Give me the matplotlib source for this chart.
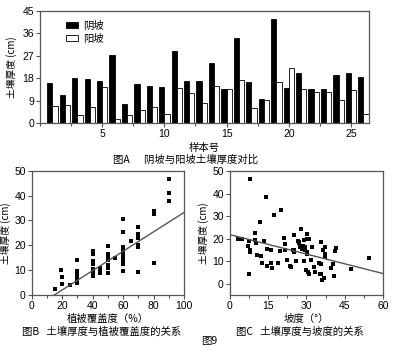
import numpy as np
import matplotlib
matplotlib.use("Agg")
import matplotlib.pyplot as plt
from matplotlib.ticker import MultipleLocator

plt.rcParams['font.family'] = ['Noto Sans CJK SC', 'DejaVu Sans']

# ---- Figure A data ----
samples = list(range(1, 27))
shady = [15.9, 11.4, 17.9, 17.6, 16.9, 27.3, 7.5, 15.6, 14.9, 14.6, 29.0, 16.9, 16.9,
         24.3, 13.8, 34.3, 16.3, 9.8, 41.7, 14.2, 19.9, 13.6, 13.6, 19.2, 19.9, 18.3]
sunny = [6.7, 7.1, 3.1, 6.5, 14.5, 1.7, 3.4, 5.1, 6.5, 3.8, 14.1, 12.1, 8.1,
         14.8, 13.8, 17.2, 6.2, 9.3, 16.3, 21.9, 13.6, 12.6, 12.5, 9.1, 13.2, 3.5]
a_yticks = [0, 9, 18, 27, 36, 45]
a_xticks = [5, 10, 15, 20, 25]

# ---- Figure B data (vegetation cover %, soil thickness cm) ----
cover = [15, 19, 20, 20, 25,
         30, 30, 30, 30, 30, 30,
         40, 40, 40, 40, 40, 40, 40, 40,
         45, 45, 45,
         50, 50, 50, 50, 50, 50, 50, 50,
         55,
         60, 60, 60, 60, 60, 60, 60, 60, 60, 60, 60,
         65,
         70, 70, 70, 70, 70, 70,
         80, 80, 80,
         90, 90, 90]
thick_b = [2.4, 10.2, 7.2, 4.6, 4.0,
           13.9, 9.5, 8.0, 6.6, 6.0, 5.0,
           17.5, 16.6, 13.5, 12.6, 10.6, 9.5, 8.6, 7.7,
           10.9, 9.9, 9.0,
           19.9, 16.6, 15.6, 14.8, 13.9, 11.9, 11.0, 8.9,
           14.8,
           30.5, 25.2, 19.2, 18.3, 17.5, 16.6, 15.6, 14.6, 13.5, 12.6, 9.5,
           21.6,
           27.2, 24.5, 22.8, 20.3, 19.2, 9.3,
           33.8, 32.5, 12.8,
           46.5, 41.2, 37.9]
b_fit = (0.39, -5.8)  # slope, intercept

# ---- Figure C data (slope degrees, soil thickness cm) ----
slope = [8.1, 14.1, 20.2, 17.3, 11.7, 10.0, 28.0, 3.3, 4.8, 7.4, 9.8, 7.2, 7.8, 7.8,
         7.4, 10.4, 10.8, 12.4, 13.3, 12.8, 14.7, 14.6, 16.0, 16.3, 16.7, 18.9, 21.3,
         21.8, 21.5, 22.3, 23.5, 24.1, 25.2, 24.9, 25.2, 26.1, 26.7, 27.1, 27.4, 28.7,
         29.1, 29.6, 29.6, 30.1, 30.1, 30.2, 30.4, 29.1, 29.9, 30.6, 30.9, 31.7, 32.2,
         33.0, 33.2, 34.8, 35.2, 35.9, 35.9, 36.5, 37.2, 36.8, 37.2, 37.4, 35.6, 39.8,
         40.8, 40.4, 41.3, 41.7, 47.3, 54.4, 36.1, 27.0, 28.2, 31.0, 25.0, 19.5]
thick_c = [46.5, 38.3, 32.8, 30.3, 27.3, 22.5, 24.3, 19.9, 19.9, 19.1, 19.4, 16.9, 14.9, 13.9,
           4.4, 17.9, 12.6, 12.5, 19.1, 9.4, 15.4, 7.9, 9.0, 14.9, 6.9, 9.4, 20.3,
           17.6, 14.9, 10.4, 7.9, 7.2, 21.8, 14.9, 13.9, 10.1, 18.8, 17.9, 16.1, 16.9,
           19.4, 16.4, 14.9, 22.1, 19.9, 13.9, 13.4, 10.1, 6.0, 5.2, 4.2, 10.4, 16.4,
           7.5, 5.4, 9.4, 4.2, 18.4, 8.7, 14.9, 16.1, 2.7, 13.1, 11.9, 4.2, 6.9,
           3.4, 8.7, 14.6, 15.8, 6.4, 11.3, 1.5, 18.5, 15.5, 19.8, 15.0, 14.5]
c_fit = (-0.288, 21.8)

W, H = 402, 353
fig = plt.figure(figsize=(W / 100, H / 100), dpi=100)

spine_col = '#555555'
tick_fs = 7.5
lab_fs = 7.5
ylab_fs = 7


def style(ax):
    for s in ax.spines.values():
        s.set_color(spine_col)
        s.set_linewidth(0.9)
    ax.tick_params(direction='out', length=3, width=0.8, color=spine_col,
                   labelsize=tick_fs, pad=1.2)
    ax.tick_params(which='minor', direction='out', length=2, width=0.8, color=spine_col)
    for lab in ax.get_xticklabels() + ax.get_yticklabels():
        lab.set_family('Liberation Sans')


# ---- Figure A ----
axA = fig.add_axes([40 / W, 1 - 123 / H, (369 - 40) / W, (123 - 11) / H])
x = np.array(samples)
bw = 0.42
axA.bar(x - bw / 2, shady, width=bw, color='black', edgecolor='black', linewidth=0.6, label='阴坡')
axA.bar(x + bw / 2, sunny, width=bw, color='white', edgecolor='black', linewidth=0.6, label='阳坡')
axA.set_xlim(0.0, 26.45)
axA.set_ylim(0, 45)
axA.set_yticks(a_yticks)
axA.set_xticks(a_xticks)
axA.xaxis.set_minor_locator(MultipleLocator(2.5))
style(axA)
axA.set_ylabel('土壤厚度 (cm)', fontsize=ylab_fs, labelpad=4)
axA.set_xlabel('样本号', fontsize=lab_fs, labelpad=3)
leg = axA.legend(loc='upper left', frameon=False, fontsize=lab_fs, handlelength=1.2,
                 handleheight=0.6, handletextpad=0.5, labelspacing=0.3,
                 bbox_to_anchor=(0.05, 1.0))
fig.text(186 / W, 1 - 160 / H, '图A      阴坡与阳坡土壤厚度对比', ha='center', va='center', fontsize=lab_fs)

# ---- Figure B ----
axB = fig.add_axes([31.7 / W, 1 - 295 / H, (184 - 31.7) / W, (295 - 170.7) / H])
axB.plot(cover, thick_b, 's', color='black', markersize=2.6, markeredgewidth=0)
xx = np.array([0, 100])
yy = b_fit[0] * xx + b_fit[1]
axB.plot(xx, yy, color='#555555', linewidth=1.0)
axB.set_xlim(0, 100)
axB.set_ylim(0, 50)
axB.set_xticks([0, 20, 40, 60, 80, 100])
axB.set_yticks([0, 10, 20, 30, 40, 50])
axB.xaxis.set_minor_locator(MultipleLocator(10))
style(axB)
axB.set_ylabel('土壤厚度 (cm)', fontsize=ylab_fs, labelpad=2)
axB.set_xlabel('植被覆盖度（%）', fontsize=lab_fs, labelpad=2)
fig.text(102 / W, 1 - 332 / H, '图B   土壤厚度与植被覆盖度的关系', ha='center', va='center', fontsize=lab_fs)

# ---- Figure C ----
axC = fig.add_axes([229.7 / W, 1 - 295 / H, (383 - 229.7) / W, (295 - 171) / H])
axC.plot(slope, thick_c, 's', color='black', markersize=2.6, markeredgewidth=0)
xx = np.array([0, 60])
yy = c_fit[0] * xx + c_fit[1]
axC.plot(xx, yy, color='#555555', linewidth=1.0)
axC.set_xlim(0, 60)
axC.set_ylim(-5, 50)
axC.set_xticks([0, 15, 30, 45, 60])
axC.set_yticks([0, 10, 20, 30, 40, 50])
axC.xaxis.set_minor_locator(MultipleLocator(7.5))
style(axC)
axC.set_ylabel('土壤厚度 (cm)', fontsize=ylab_fs, labelpad=2)
axC.set_xlabel('坡度（°）', fontsize=lab_fs, labelpad=2)
fig.text(300 / W, 1 - 332 / H, '图C   土壤厚度与坡度的关系', ha='center', va='center', fontsize=lab_fs)

fig.text(201 / W, 1 - 341 / H, '图9', ha='left', va='center', fontsize=lab_fs)

fig.savefig('out.png', dpi=100)
